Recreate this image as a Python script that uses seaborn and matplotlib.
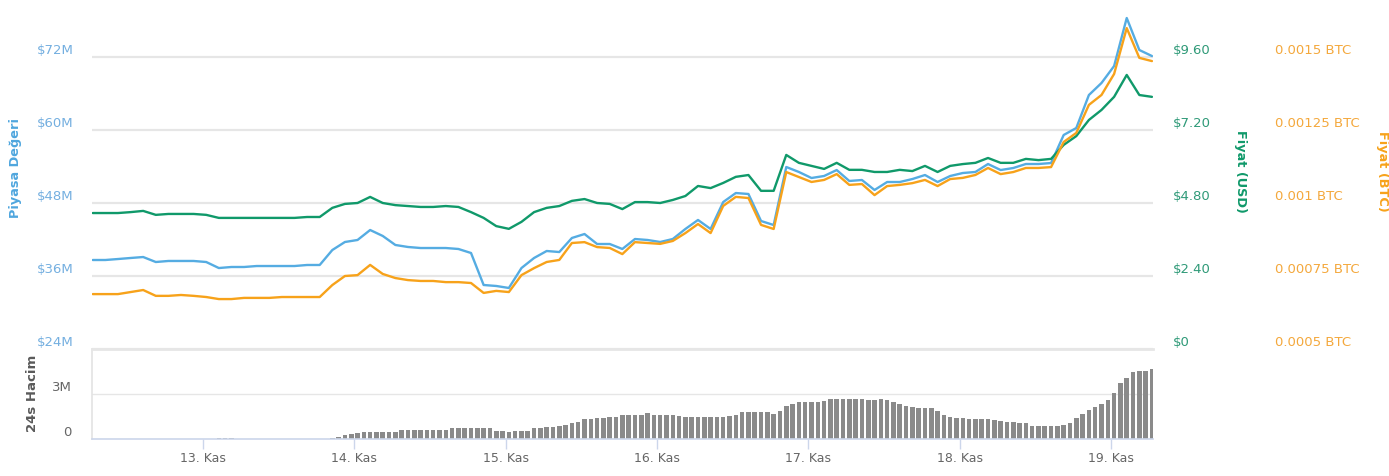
import numpy as np
import pandas as pd
import matplotlib
matplotlib.use("Agg")
import matplotlib.pyplot as plt
import matplotlib.transforms as mtransforms
import seaborn as sns

sns.set_theme(style="white")
plt.rcParams["font.family"] = ["DejaVu Sans"]

# ---------------- data ----------------
start = "2017-11-12 06:30"

market_cap_m = [38.63, 38.63, 38.79, 38.96, 39.12, 38.30, 38.47, 38.47, 38.47, 38.30,
                37.31, 37.48, 37.48, 37.64, 37.64, 37.64, 37.64, 37.81, 37.81, 40.27,
                41.59, 41.92, 43.56, 42.58, 41.10, 40.77, 40.60, 40.60, 40.60, 40.44,
                39.78, 34.52, 34.36, 34.03, 37.31, 38.96, 40.11, 39.94, 42.25, 42.90,
                41.26, 41.26, 40.44, 42.08, 41.92, 41.59, 42.08, 43.73, 45.21, 43.73,
                48.16, 49.64, 49.48, 45.04, 44.38, 53.92, 53.10, 52.11, 52.44, 53.42,
                51.62, 51.78, 50.14, 51.45, 51.45, 51.94, 52.60, 51.45, 52.44, 52.93,
                53.10, 54.41, 53.42, 53.75, 54.41, 54.41, 54.57, 59.18, 60.33, 65.75,
                67.73, 70.52, 78.41, 73.15, 72.16]

price_usd = [4.47, 4.47, 4.47, 4.50, 4.54, 4.41, 4.44, 4.44, 4.44, 4.41,
             4.31, 4.31, 4.31, 4.31, 4.31, 4.31, 4.31, 4.34, 4.34, 4.64,
             4.77, 4.80, 5.00, 4.80, 4.73, 4.70, 4.67, 4.67, 4.70, 4.67,
             4.50, 4.31, 4.04, 3.95, 4.18, 4.50, 4.64, 4.70, 4.87, 4.93,
             4.80, 4.77, 4.60, 4.83, 4.83, 4.80, 4.90, 5.03, 5.36, 5.29,
             5.46, 5.66, 5.72, 5.20, 5.20, 6.38, 6.12, 6.02, 5.92, 6.12,
             5.89, 5.89, 5.82, 5.82, 5.89, 5.85, 6.02, 5.82, 6.02, 6.08,
             6.12, 6.28, 6.12, 6.12, 6.25, 6.21, 6.25, 6.71, 7.00, 7.53,
             7.86, 8.29, 9.01, 8.35, 8.29]

price_btc = [0.000688, 0.000688, 0.000688, 0.000695, 0.000702, 0.000682, 0.000682, 0.000685, 0.000682, 0.000678,
             0.000671, 0.000671, 0.000675, 0.000675, 0.000675, 0.000678, 0.000678, 0.000678, 0.000678, 0.000719,
             0.000750, 0.000753, 0.000788, 0.000757, 0.000743, 0.000736, 0.000733, 0.000733, 0.000729, 0.000729,
             0.000726, 0.000692, 0.000699, 0.000695, 0.000753, 0.000777, 0.000798, 0.000805, 0.000863, 0.000866,
             0.000849, 0.000846, 0.000825, 0.000866, 0.000863, 0.000860, 0.000870, 0.000897, 0.000928, 0.000897,
             0.000990, 0.001021, 0.001017, 0.000925, 0.000911, 0.001106, 0.001089, 0.001072, 0.001079, 0.001099,
             0.001062, 0.001065, 0.001027, 0.001058, 0.001062, 0.001068, 0.001079, 0.001058, 0.001082, 0.001086,
             0.001096, 0.001120, 0.001099, 0.001106, 0.001120, 0.001120, 0.001123, 0.001209, 0.001240, 0.001336,
             0.001370, 0.001442, 0.001599, 0.001497, 0.001486]

volume_m = [0, 0, 0, 0, 0, 0, 0, 0, 0, 0,
            0, 0, 0, 0, 0, 0, 0, 0, 0, 0,
            0.1, 0.1, 0.1, 0, 0, 0, 0, 0, 0, 0,
            0, 0, 0, 0, 0, 0, 0, 0, 0.1, 0.15,
            0.3, 0.35, 0.42, 0.45, 0.47, 0.47, 0.47, 0.47, 0.47, 0.6,
            0.6, 0.6, 0.6, 0.6, 0.6, 0.6, 0.6, 0.71, 0.71, 0.71,
            0.71, 0.71, 0.71, 0.71, 0.53, 0.53, 0.5, 0.53, 0.53, 0.53,
            0.73, 0.75, 0.8, 0.82, 0.88, 0.93, 1.05, 1.16, 1.31, 1.33,
            1.38, 1.4, 1.44, 1.5, 1.6, 1.6, 1.6, 1.6, 1.71, 1.6,
            1.6, 1.6, 1.6, 1.55, 1.44, 1.44, 1.44, 1.44, 1.44, 1.44,
            1.44, 1.53, 1.6, 1.82, 1.82, 1.82, 1.82, 1.82, 1.7, 1.85,
            2.2, 2.36, 2.45, 2.49, 2.49, 2.5, 2.55, 2.64, 2.64, 2.64,
            2.64, 2.64, 2.64, 2.62, 2.6, 2.69, 2.62, 2.49, 2.35, 2.2,
            2.16, 2.04, 2.04, 2.1, 1.85, 1.6, 1.45, 1.42, 1.38, 1.31,
            1.31, 1.31, 1.31, 1.27, 1.22, 1.16, 1.16, 1.1, 1.04, 0.9,
            0.87, 0.87, 0.87, 0.87, 0.95, 1.04, 1.38, 1.7, 1.93, 2.16,
            2.35, 2.6, 3.1, 3.71, 4.1, 4.45, 4.52, 4.56, 4.7]

day_ticks = ["2017-11-13", "2017-11-14", "2017-11-15", "2017-11-16",
             "2017-11-17", "2017-11-18", "2017-11-19"]
day_labels = ["13. Kas", "14. Kas", "15. Kas", "16. Kas", "17. Kas", "18. Kas", "19. Kas"]
mcap_ticks = [24, 36, 48, 60, 72]
mcap_labels = ["$24M", "$36M", "$48M", "$60M", "$72M"]
usd_ticks = [0, 2.4, 4.8, 7.2, 9.6]
usd_labels = ["$0", "$2.40", "$4.80", "$7.20", "$9.60"]
btc_ticks = [0.0005, 0.00075, 0.001, 0.00125, 0.0015]
btc_labels = ["0.0005 BTC", "0.00075 BTC", "0.001 BTC", "0.00125 BTC", "0.0015 BTC"]
vol_ticks = [0, 3]
vol_labels = ["0", "3M"]

price_df = pd.DataFrame({
    "time": pd.date_range(start, periods=len(market_cap_m), freq="2h"),
    "mcap": market_cap_m, "usd": price_usd, "btc": price_btc})
vol_df = pd.DataFrame({
    "time": pd.date_range(start, periods=len(volume_m), freq="h"),
    "vol": volume_m})

# ---------------- style ----------------
C_BLUE = "#55ace2"
C_GREEN = "#10996a"
C_ORANGE = "#f7a21a"
C_GRID = "#e6e6e6"
W, H = 1389, 476
fig = plt.figure(figsize=(W / 100, H / 100), dpi=100)


def rect(x0, y0, x1, y1):
    return [x0 / W, 1 - y1 / H, (x1 - x0) / W, (y1 - y0) / H]


ax = fig.add_axes(rect(92, 5, 1153, 349))
axv = fig.add_axes(rect(92, 349, 1153, 439))
ax2 = ax.twinx()
ax3 = ax.twinx()

xlim = (pd.Timestamp("2017-11-12 06:23"), pd.Timestamp("2017-11-19 06:40"))
up = mtransforms.ScaledTranslation(0, 8 / 100, fig.dpi_scale_trans)

# lines
sns.lineplot(data=price_df, x="time", y="mcap", ax=ax, color=C_BLUE, lw=1.7)
sns.lineplot(data=price_df, x="time", y="usd", ax=ax2, color=C_GREEN, lw=1.7)
sns.lineplot(data=price_df, x="time", y="btc", ax=ax3, color=C_ORANGE, lw=1.7)

px_top = 52  # pixels above top gridline
ax.set_ylim(24, 72 + px_top * 48 / 292)
ax2.set_ylim(0, 9.6 + px_top * 9.6 / 292)
ax3.set_ylim(0.0005, 0.0015 + px_top * 0.001 / 292)
for a in (ax, ax2, ax3):
    a.set_xlim(*xlim)
    a.set_xlabel("")
    a.set_ylabel("")
    a.set_xticks([])
    for s in a.spines.values():
        s.set_visible(False)
    a.patch.set_alpha(0)

ax.set_yticks(mcap_ticks)
ax.set_yticklabels(mcap_labels)
ax.grid(axis="y", color=C_GRID, lw=1.6)
ax.grid(axis="x", visible=False)
ax.set_axisbelow(True)
ax.tick_params(axis="y", length=0, pad=13, labelsize=9.5, labelcolor="#74afe0")

ax2.set_yticks(usd_ticks)
ax2.set_yticklabels(usd_labels)
ax2.grid(False)
ax2.tick_params(axis="y", length=0, pad=14.5, labelsize=9.5, labelcolor="#2f9a78")

ax3.set_yticks(btc_ticks)
ax3.set_yticklabels(btc_labels)
ax3.grid(False)
ax3.tick_params(axis="y", length=0, pad=88, labelsize=9.5, labelcolor="#f4a83c")

# volume bars
axv.bar(vol_df["time"], vol_df["vol"], width=0.72 / 24, color="#8a8a8a", linewidth=0)
axv.set_xlim(*xlim)
axv.set_ylim(0, 6)
axv.set_yticks(vol_ticks)
axv.set_yticklabels(vol_labels)
axv.grid(axis="y", color=C_GRID, lw=1.0)
axv.grid(axis="x", visible=False)
axv.set_axisbelow(True)
axv.tick_params(axis="y", length=0, pad=14.5, labelsize=9.5, labelcolor="#666666")
axv.set_xticks(pd.to_datetime(day_ticks))
axv.set_xticklabels(day_labels)
axv.tick_params(axis="x", direction="out", length=7.5, width=1, color="#ccd6eb",
                pad=2, labelsize=9, labelcolor="#666666", bottom=True)
for k, s in axv.spines.items():
    s.set_visible(False)
axv.spines["bottom"].set_visible(True)
axv.spines["bottom"].set_color("#ccd6eb")
axv.spines["bottom"].set_linewidth(1.2)
axv.spines["left"].set_visible(True)
axv.spines["left"].set_color("#e3e3e3")
axv.spines["left"].set_linewidth(1.2)
axv.spines["top"].set_visible(True)
axv.spines["top"].set_color(C_GRID)
axv.spines["top"].set_linewidth(2)
axv.set_xlabel("")
axv.set_ylabel("")

for a in (ax, ax2, ax3, axv):
    for lab in a.get_yticklabels():
        lab.set_transform(lab.get_transform() + up)

# axis titles
fig.text(16 / W, 1 - 168 / H, "Piyasa Değeri", rotation=90, ha="center", va="center",
         fontsize=9.3, fontweight="bold", color="#4fa6de")
fig.text(1241 / W, 1 - 171 / H, "Fiyat (USD)", rotation=-90, ha="center", va="center",
         fontsize=9.3, fontweight="bold", color=C_GREEN)
fig.text(1383 / W, 1 - 171 / H, "Fiyat (BTC)", rotation=-90, ha="center", va="center",
         fontsize=9.3, fontweight="bold", color=C_ORANGE)
fig.text(32 / W, 1 - 393 / H, "24s Hacim", rotation=90, ha="center", va="center",
         fontsize=9.5, fontweight="bold", color="#5a5a5a")

fig.savefig("out.png", dpi=100)
